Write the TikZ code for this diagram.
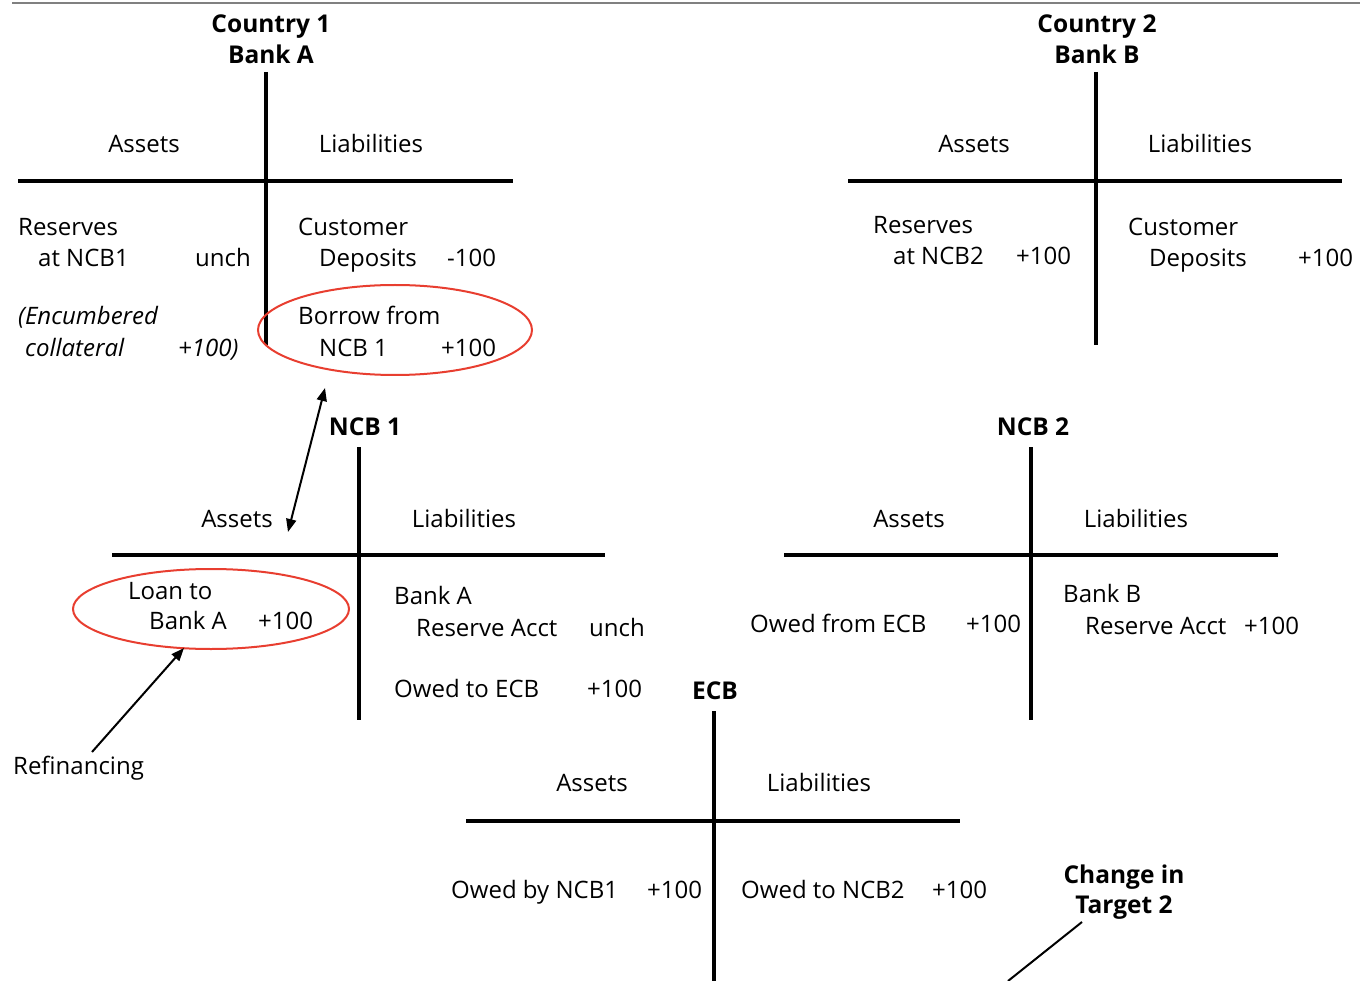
\documentclass[tikz,border=0pt]{standalone}
\usepackage{fontspec}
\setmainfont{Open Sans}
\usetikzlibrary{arrows.meta,shapes.geometric}
\definecolor{ringred}{RGB}{232,62,48}
\begin{document}
\begin{tikzpicture}[x=1pt,y=-1pt,
  every node/.style={inner sep=0pt,font=\fontsize{24}{28}\selectfont},
  txt/.style={anchor=mid west,yshift=-4pt},
  ctr/.style={anchor=mid,yshift=-4pt},
  ttl/.style={anchor=mid,yshift=-4pt,font=\fontsize{24.5}{28}\selectfont\bfseries},
  tline/.style={line width=3.6pt},
  ring/.style={draw=ringred,line width=2pt,ellipse,minimum width=#1},
  arr/.style={line width=2pt,-{Triangle[length=13pt,width=10pt]}},
  darr/.style={line width=2pt,{Triangle[length=13pt,width=10pt]}-{Triangle[length=13pt,width=10pt]}},
  plain/.style={line width=2pt}]
\useasboundingbox (0,0) rectangle (1360,981);
\draw[gray,line width=2pt] (12,3) -- (1360,3);

% ---------- Bank A ----------
\node[ttl] (c1) at (271,26) {Country 1};
\node[ttl] (ba) at (271,57) {Bank A};
\draw[tline] (266,72) -- (266,345);
\draw[tline] (18,181) -- (513,181);
\node[ctr] (aA) at (144,146) {Assets};
\node[ctr] (aL) at (371,146) {Liabilities};
\node[txt] (a1) at (18,229) {Reserves};
\node[txt] (a2) at (38,260) {at NCB1};
\node[txt] (a3) at (195,260) {unch};
\node[txt] (a4) at (298,229) {Customer};
\node[txt] (a5) at (319,260) {Deposits};
\node[txt] (a6) at (447,260) {-100};
\node[txt] (a7) at (18,318) {\itshape (Encumbered};
\node[txt] (a8) at (25,350) {\itshape collateral};
\node[txt] (a9) at (178,350) {\itshape +100)};
\node[txt] (a10) at (298,318) {Borrow from};
\node[txt] (a11) at (319,350) {NCB 1};
\node[txt] (a12) at (441,350) {+100};
\node[ring=274pt,minimum height=90pt] (e1) at (395,330) {};

% ---------- Bank B ----------
\node[ttl] (c2) at (1097,26) {Country 2};
\node[ttl] (bb) at (1097,57) {Bank B};
\draw[tline] (1096,72) -- (1096,345);
\draw[tline] (848,181) -- (1342,181);
\node[ctr] (bA) at (974,146) {Assets};
\node[ctr] (bL) at (1200,146) {Liabilities};
\node[txt] (b1) at (873,227) {Reserves};
\node[txt] (b2) at (893,258) {at NCB2};
\node[txt] (b3) at (1016,258) {+100};
\node[txt] (b4) at (1128,229) {Customer};
\node[txt] (b5) at (1149,260) {Deposits};
\node[txt] (b6) at (1298,260) {+100};

% ---------- NCB 1 ----------
\node[ttl] (n1) at (365,429) {NCB 1};
\draw[tline] (359,447) -- (359,720);
\draw[tline] (112,555) -- (605,555);
\node[ctr] (nA) at (237,521) {Assets};
\node[ctr] (nL) at (464,521) {Liabilities};
\node[txt] (n1a) at (128,593) {Loan to};
\node[txt] (n1b) at (149,623) {Bank A};
\node[txt] (n1c) at (258,623) {+100};
\node[ring=276pt,minimum height=80pt] (e2) at (211,609) {};
\node[txt] (n1d) at (394,598) {Bank A};
\node[txt] (n1e) at (416,630) {Reserve Acct};
\node[txt] (n1f) at (589,630) {unch};
\node[txt] (n1g) at (394,691) {Owed to ECB};
\node[txt] (n1h) at (587,691) {+100};
\node[txt] (refi) at (13,768) {Refinancing};
\coordinate (d1) at (325,388);
\coordinate (d2) at (288,532);
\draw[darr] (d2) -- (d1);
\coordinate (r1) at (92,752);
\coordinate (r2) at (184,648);
\draw[arr] (r1) -- (r2);

% ---------- NCB 2 ----------
\node[ttl] (n2) at (1033,429) {NCB 2};
\draw[tline] (1031,447) -- (1031,720);
\draw[tline] (784,555) -- (1278,555);
\node[ctr] (mA) at (909,521) {Assets};
\node[ctr] (mL) at (1136,521) {Liabilities};
\node[txt] (m1) at (750,626) {Owed from ECB};
\node[txt] (m2) at (966,626) {+100};
\node[txt] (m3) at (1063,596) {Bank B};
\node[txt] (m4) at (1085,628) {Reserve Acct};
\node[txt] (m5) at (1244,628) {+100};

% ---------- ECB ----------
\node[ttl] (ecb) at (715,693) {ECB};
\draw[tline] (714,711) -- (714,981);
\draw[tline] (466,821) -- (960,821);
\node[ctr] (eA) at (592,785) {Assets};
\node[ctr] (eL) at (819,785) {Liabilities};
\node[txt] (e1a) at (451,892) {Owed by NCB1};
\node[txt] (e1b) at (647,892) {+100};
\node[txt] (e1c) at (741,892) {Owed to NCB2};
\node[txt] (e1d) at (932,892) {+100};
\node[ttl] (t1) at (1124,877) {Change in};
\node[ttl] (t2) at (1124,907) {Target 2};
\coordinate (t3) at (1082,922);
\coordinate (t4) at (1008,981);
\draw[plain] (t3) -- (t4);
\end{tikzpicture}
\end{document}
